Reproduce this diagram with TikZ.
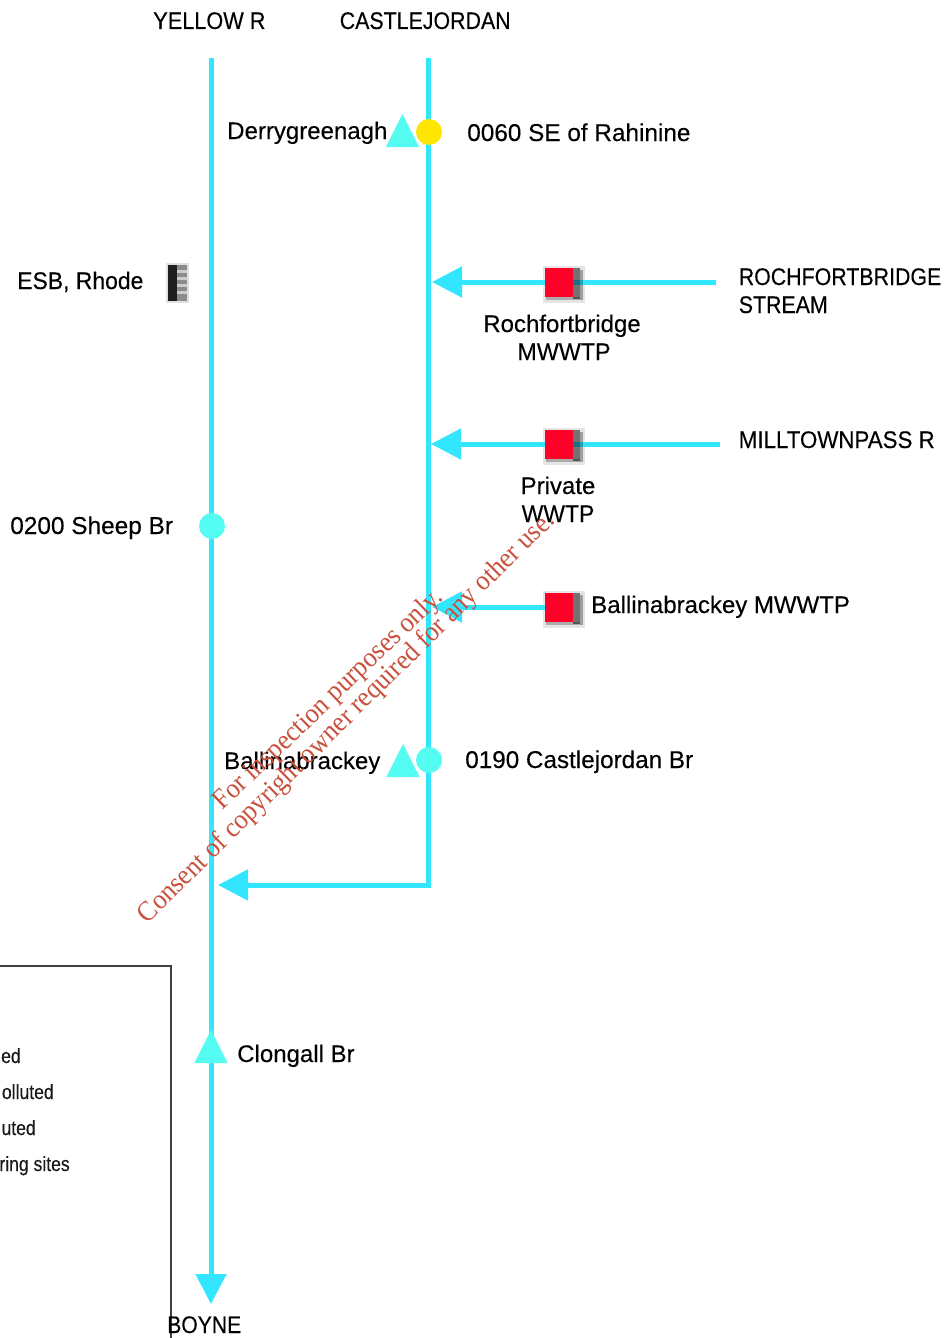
\documentclass[tikz,border=0pt]{standalone}
\usepackage{fontspec}
\setmainfont{Liberation Sans}[FakeBold=0.2]
\newfontfamily\wmfont{Liberation Serif}
\usetikzlibrary{arrows.meta,shapes.geometric}
\definecolor{river}{HTML}{33E6FF}
\definecolor{stn}{HTML}{55FCF2}
\definecolor{wm}{RGB}{200,80,60}
\definecolor{sqred}{HTML}{FF0029}
\newcommand{\capsq}[2][.89]{\scalebox{#1}[1]{#2}}
\tikzset{
  flow/.style={draw=river,line width=3.75pt},
  flowarrow/.style={flow,-{Triangle[length=22.5pt,width=22.5pt]}},
  lbl/.style={anchor=base west,inner sep=0pt,font=\fontsize{#1}{#1}\selectfont,text=black},
  lbl/.default=18,
  lblc/.style={anchor=base,inner sep=0pt,font=\fontsize{#1}{#1}\selectfont,text=black},
  lblc/.default=18,
  leg/.style={anchor=base east,inner sep=0pt,font=\fontsize{15.5}{15.5}\selectfont,text=black!90},
  sqr/.style={rectangle,fill=sqred,minimum width=21pt,minimum height=21.5pt,inner sep=0pt},
  tri/.style={regular polygon,regular polygon sides=3,fill=stn,inner sep=0pt,minimum size=33pt,xscale=.87},
  dot/.style={circle,fill=#1,inner sep=0pt,minimum size=19.5pt},
  wmk/.style={inner sep=0pt,text=wm,font=\wmfont\fontsize{21}{21}\selectfont},
  shade/.style={fill=black,fill opacity=#1},
  halo/.style={fill=black!10}
}
\begin{document}
\begin{tikzpicture}[x=0.75pt,y=-0.75pt]
\useasboundingbox (0,0) rectangle (945,1338);
\fill[white] (0,0) rectangle (945,1338);
% coordinates
\coordinate (ytop) at (211,58);
\coordinate (yend) at (211,1304);
\coordinate (ctop) at (428.5,58);
\coordinate (cbend) at (428.5,885);
\coordinate (cin) at (218,885);
\coordinate (r1a) at (716,282);
\coordinate (r1b) at (432,282);
\coordinate (r2a) at (720,444);
\coordinate (r2b) at (431,444);
\coordinate (r3a) at (559,607);
\coordinate (r3b) at (432,607);
% legend box
\draw[draw=black!75,line width=.8pt] (-2,966) -- (171,966) -- (171,1340);
% halo behind squares
\foreach \y in {268,430,593}{
  \fill[halo] (543,\y-2) rectangle (585,\y+35);
}
% rivers
\draw[flowarrow] (ytop) -- (yend);
\draw[flowarrow] (ctop) -- (cbend) -- (cin);
\draw[flowarrow] (r1a) -- (r1b);
\draw[flowarrow] (r2a) -- (r2b);
\draw[flowarrow] (r3a) -- (r3b);
% square shadows
\foreach \y in {268,430,593}{
  \fill[shade=.5] (573,\y) rectangle (580,\y+31);
  \fill[shade=.3] (580,\y+2) rectangle (583,\y+32);
  \fill[shade=.25] (546,\y+29) rectangle (580,\y+32);
}
% squares
\node[sqr] (sq1) at (559,282.5) {};
\node[sqr] (sq2) at (559,444.5) {};
\node[sqr] (sq3) at (559,607.5) {};
% stations
\node[tri] (t1) at (402.5,136) {};
\node[dot=yellow!88!orange] (d1) at (429,132) {};
\node[dot=stn] (d2) at (212,526) {};
\node[tri] (t2) at (403,766) {};
\node[dot=stn] (d3) at (429,760) {};
\node[tri] (t3) at (211,1052) {};
% ESB icon
\fill[black!12] (166,263) rectangle (189,303);
\fill[black!88] (168,265) rectangle (177,301);
\fill[black!45] (177,265) rectangle (187,301);
\foreach \y in {270,277,284,291}{\fill[white!80!black] (177,\y) rectangle (187,\y+3);}
% labels
\node[lbl] (yellow) at (153,29) {\capsq[.905]{YELLOW R}};
\node[lbl] (castle) at (339.5,29) {\capsq{CASTLEJORDAN}};
\node[lbl] (derry) at (227,139) {Derrygreenagh};
\node[lbl=18.25] (s0060) at (467,141) {0060 SE of Rahinine};
\node[lbl] (esb) at (17,289) {\capsq[.955]{ESB, Rhode}};
\node[lbl] (roch1) at (738.5,285) {\capsq{ROCHFORTBRIDGE}};
\node[lbl] (roch2) at (738.5,313) {\capsq{STREAM}};
\node[lblc] (rw1) at (562,332) {Rochfortbridge};
\node[lblc] (rw2) at (564,360) {\capsq[.97]{MWWTP}};
\node[lbl] (mill) at (738.5,448) {\capsq[.93]{MILLTOWNPASS R}};
\node[lblc] (pr1) at (558,494) {Private};
\node[lblc] (pr2) at (558,522) {\capsq[.955]{WWTP}};
\node[lbl] (bm) at (591,613) {Ballinabrackey MWWTP};
\node[lbl=18.3] (sheep) at (10,534) {0200 Sheep Br};
\node[lbl] (bal) at (224,769) {Ballinabrackey};
\node[lbl=18.2] (s0190) at (465,768) {0190 Castlejordan Br};
\node[lbl] (clon) at (237,1062) {Clongall Br};
\node[lbl] (boyne) at (167,1333) {\capsq[.88]{BOYNE}};
% legend text (cut by the page edge)
\node[leg] (l1) at (21,1063) {\scalebox{.85}[1]{ed}};
\node[leg] (l2) at (54,1099) {\scalebox{.85}[1]{olluted}};
\node[leg] (l3) at (36,1135) {\scalebox{.85}[1]{uted}};
\node[leg] (l4) at (70,1171) {\scalebox{.85}[1]{ring sites}};
% watermark
\node[wmk,rotate=43.7] (w1) at (329,700) {\scalebox{.93}[1]{For inspection purposes only.}};
\node[wmk,rotate=44.6] (w2) at (347,718) {\scalebox{.93}[1]{Consent of copyright owner required for any other use.}};
\end{tikzpicture}
\end{document}
